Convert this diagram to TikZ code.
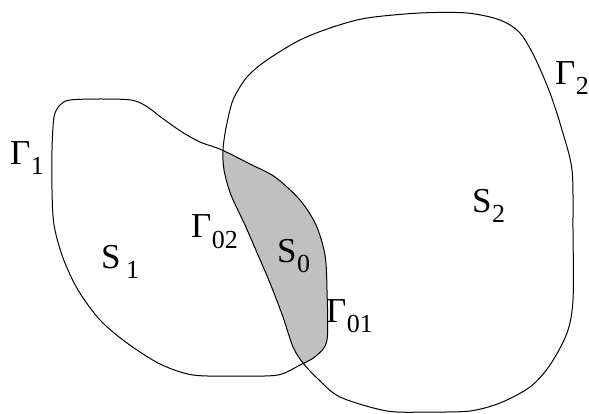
\documentclass[tikz,border=0pt]{standalone}
\usepackage{fontspec}
\setmainfont{Liberation Serif}
\usepackage{xcolor}
\usetikzlibrary{positioning}
\definecolor{overlap}{RGB}{192,192,192}
\newcommand{\lblsub}[2]{#1\hspace{0.5pt}\raisebox{-10pt}{\fontsize{26}{26}\selectfont #2}}
% boundary Gamma_1 (left region)
\newcommand{\curveone}{plot[smooth cycle] coordinates {
  (70,100) (100,99) (131,100) (146,106) (162,118) (182,132) (200,142) (222,150)
  (250,164) (275,177) (300,200) (316,225) (325,255) (327,290) (327,340)
  (316,356) (300,365) (278,375) (240,376) (193,375) (160,364) (127,343)
  (100,320) (78,290) (63,258) (54,225) (52,190) (52,150) (54,117) (60,105)}}
% boundary Gamma_2 (right region)
\newcommand{\curvetwo}{plot[smooth cycle] coordinates {
  (223,150) (226,128) (233,100) (247,77) (267,60) (300,40) (333,27)
  (367,18) (420,13) (467,13) (500,20) (520,33) (535,58) (550,93)
  (562,130) (572,170) (573,230) (573,300) (567,333) (550,365) (530,387)
  (500,403) (470,411) (430,412) (387,411) (340,397) (317,378) (303,363)
  (293,347) (283,317) (270,283) (258,255) (245,225) (231,195) (224,170)}}
\tikzset{
  rim/.style={draw=black, line width=1pt},
  lbl/.style={inner sep=0pt, anchor=base west, font=\fontsize{35}{40}\selectfont},
  every picture/.style={line cap=round, line join=round}
}

\begin{document}
\begin{tikzpicture}[x=1pt,y=-1pt]
  \useasboundingbox (0,0) rectangle (589,414);

  \begin{scope}
    \clip \curvetwo;
    \fill[overlap] \curveone;
  \end{scope}
  \draw[rim] \curveone;
  \draw[rim] \curvetwo;

  \node[lbl] (G1) at (10,165) {\lblsub{Γ}{1}};
  \node[lbl] (S1) at (101,268) {\lblsub{S}{\hspace{5pt}1}};
  \node[lbl] (G02) at (191,238) {\lblsub{Γ}{02}};
  \node[lbl] (S0) at (277,262) {\lblsub{S}{0}};
  \node[lbl] (G01) at (326,322) {\lblsub{Γ}{01}};
  \node[lbl] (S2) at (472,213) {\lblsub{S}{2}};
  \node[lbl] (G2) at (555,85) {\lblsub{Γ}{2}};
\end{tikzpicture}
\end{document}
